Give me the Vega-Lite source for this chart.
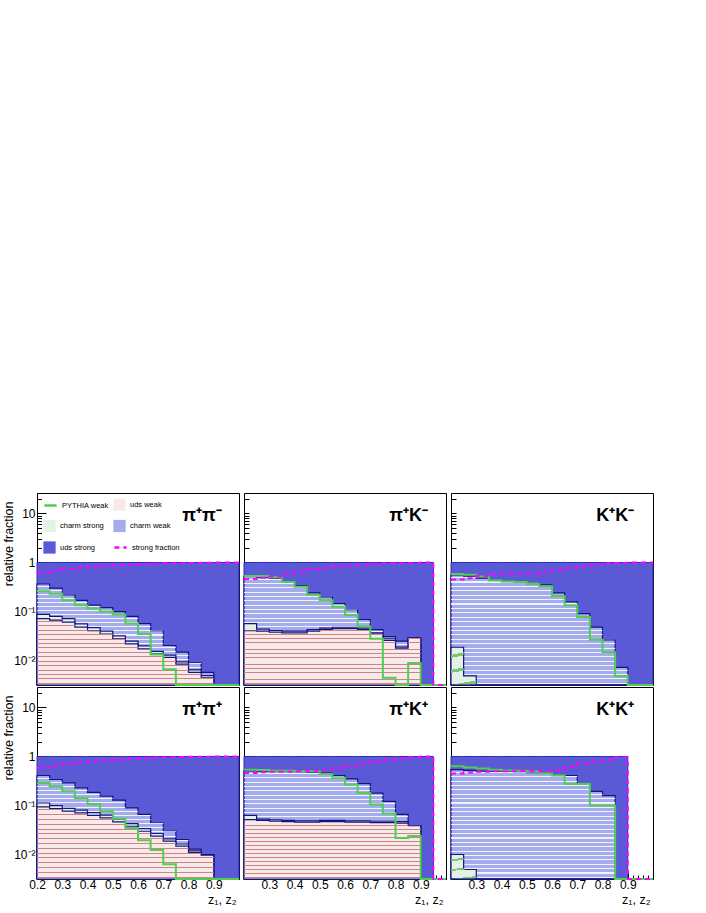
{
  "$schema": "https://vega.github.io/schema/vega-lite/v6.json",
  "background": "white",
  "padding": {"left": 1, "top": 492, "right": 0, "bottom": 0},
  "data": {"values": [
    {"r":"unlike","c":"pp","p":"π⁺π⁻","x":0.2,"uw":0.072,"cs":0.088,"cw":0.365,"us":1,"py":0.26,"sf":0.62},
    {"r":"unlike","c":"pp","p":"π⁺π⁻","x":0.25,"uw":0.067,"cs":0.08,"cw":0.3,"us":1,"py":0.23,"sf":0.69},
    {"r":"unlike","c":"pp","p":"π⁺π⁻","x":0.3,"uw":0.061,"cs":0.072,"cw":0.22,"us":1,"py":0.17,"sf":0.74},
    {"r":"unlike","c":"pp","p":"π⁺π⁻","x":0.35,"uw":0.0485,"cs":0.056,"cw":0.17,"us":1,"py":0.135,"sf":0.79},
    {"r":"unlike","c":"pp","p":"π⁺π⁻","x":0.4,"uw":0.041,"cs":0.047,"cw":0.135,"us":1,"py":0.115,"sf":0.83},
    {"r":"unlike","c":"pp","p":"π⁺π⁻","x":0.45,"uw":0.035,"cs":0.04,"cw":0.12,"us":1,"py":0.1,"sf":0.86},
    {"r":"unlike","c":"pp","p":"π⁺π⁻","x":0.5,"uw":0.028,"cs":0.032,"cw":0.1,"us":1,"py":0.087,"sf":0.88},
    {"r":"unlike","c":"pp","p":"π⁺π⁻","x":0.55,"uw":0.022,"cs":0.025,"cw":0.08,"us":1,"py":0.057,"sf":0.9},
    {"r":"unlike","c":"pp","p":"π⁺π⁻","x":0.6,"uw":0.0174,"cs":0.02,"cw":0.057,"us":1,"py":0.035,"sf":0.92},
    {"r":"unlike","c":"pp","p":"π⁺π⁻","x":0.65,"uw":0.0138,"cs":0.0155,"cw":0.041,"us":1,"py":0.0133,"sf":0.94},
    {"r":"unlike","c":"pp","p":"π⁺π⁻","x":0.7,"uw":0.0117,"cs":0.013,"cw":0.0204,"us":1,"py":0.0067,"sf":0.96},
    {"r":"unlike","c":"pp","p":"π⁺π⁻","x":0.75,"uw":0.0085,"cs":0.0095,"cw":0.0149,"us":1,"py":0,"sf":0.97},
    {"r":"unlike","c":"pp","p":"π⁺π⁻","x":0.8,"uw":0.0058,"cs":0.0065,"cw":0.009,"us":1,"py":0,"sf":0.98},
    {"r":"unlike","c":"pp","p":"π⁺π⁻","x":0.85,"uw":0.0046,"cs":0.005,"cw":0.0058,"us":1,"py":0,"sf":0.99},
    {"r":"unlike","c":"pp","p":"π⁺π⁻","x":0.9,"uw":0,"cs":0,"cw":0,"us":1,"py":0,"sf":1},
    {"r":"unlike","c":"pp","p":"π⁺π⁻","x":0.95,"uw":0,"cs":0,"cw":0,"us":1,"py":0,"sf":1},
    {"r":"unlike","c":"pp","p":"π⁺π⁻","x":1.0,"uw":0,"cs":0,"cw":0,"us":1,"py":0,"sf":1},

    {"r":"unlike","c":"pk","p":"π⁺K⁻","x":0.2,"uw":0.041,"cs":0.057,"cw":0.52,"us":1,"py":0.53,"sf":0.46},
    {"r":"unlike","c":"pk","p":"π⁺K⁻","x":0.25,"uw":0.04,"cs":0.044,"cw":0.5,"us":1,"py":0.53,"sf":0.49},
    {"r":"unlike","c":"pk","p":"π⁺K⁻","x":0.3,"uw":0.038,"cs":0.041,"cw":0.48,"us":1,"py":0.5,"sf":0.52},
    {"r":"unlike","c":"pk","p":"π⁺K⁻","x":0.35,"uw":0.037,"cs":0.04,"cw":0.4,"us":1,"py":0.4,"sf":0.59},
    {"r":"unlike","c":"pk","p":"π⁺K⁻","x":0.4,"uw":0.037,"cs":0.04,"cw":0.34,"us":1,"py":0.32,"sf":0.64},
    {"r":"unlike","c":"pk","p":"π⁺K⁻","x":0.45,"uw":0.04,"cs":0.043,"cw":0.24,"us":1,"py":0.22,"sf":0.73},
    {"r":"unlike","c":"pk","p":"π⁺K⁻","x":0.5,"uw":0.043,"cs":0.046,"cw":0.2,"us":1,"py":0.17,"sf":0.78},
    {"r":"unlike","c":"pk","p":"π⁺K⁻","x":0.55,"uw":0.045,"cs":0.048,"cw":0.146,"us":1,"py":0.125,"sf":0.84},
    {"r":"unlike","c":"pk","p":"π⁺K⁻","x":0.6,"uw":0.045,"cs":0.048,"cw":0.11,"us":1,"py":0.085,"sf":0.87},
    {"r":"unlike","c":"pk","p":"π⁺K⁻","x":0.65,"uw":0.043,"cs":0.046,"cw":0.069,"us":1,"py":0.05,"sf":0.91},
    {"r":"unlike","c":"pk","p":"π⁺K⁻","x":0.7,"uw":0.035,"cs":0.037,"cw":0.043,"us":1,"py":0.028,"sf":0.94},
    {"r":"unlike","c":"pk","p":"π⁺K⁻","x":0.75,"uw":0.026,"cs":0.028,"cw":0.031,"us":1,"py":0.0045,"sf":0.96},
    {"r":"unlike","c":"pk","p":"π⁺K⁻","x":0.8,"uw":0.018,"cs":0.019,"cw":0.025,"us":1,"py":0,"sf":0.97},
    {"r":"unlike","c":"pk","p":"π⁺K⁻","x":0.85,"uw":0.029,"cs":0.029,"cw":0.029,"us":1,"py":0.009,"sf":0.97},
    {"r":"unlike","c":"pk","p":"π⁺K⁻","x":0.9,"uw":0,"cs":0,"cw":0,"us":1,"py":0,"sf":1},
    {"r":"unlike","c":"pk","p":"π⁺K⁻","x":0.95,"uw":0,"cs":0,"cw":0,"us":0,"py":0,"sf":0},
    {"r":"unlike","c":"pk","p":"π⁺K⁻","x":1.0,"uw":0,"cs":0,"cw":0,"us":0,"py":0,"sf":0},

    {"r":"unlike","c":"kk","p":"K⁺K⁻","x":0.2,"uw":0,"cs":0.0188,"cw":0.56,"us":1,"py":0.585,"sf":0.45},
    {"r":"unlike","c":"kk","p":"K⁺K⁻","x":0.25,"uw":0,"cs":0.0049,"cw":0.53,"us":1,"py":0.56,"sf":0.48},
    {"r":"unlike","c":"kk","p":"K⁺K⁻","x":0.3,"uw":0,"cs":0,"cw":0.48,"us":1,"py":0.52,"sf":0.53},
    {"r":"unlike","c":"kk","p":"K⁺K⁻","x":0.35,"uw":0,"cs":0,"cw":0.43,"us":1,"py":0.43,"sf":0.57},
    {"r":"unlike","c":"kk","p":"K⁺K⁻","x":0.4,"uw":0,"cs":0,"cw":0.41,"us":1,"py":0.41,"sf":0.59},
    {"r":"unlike","c":"kk","p":"K⁺K⁻","x":0.45,"uw":0,"cs":0,"cw":0.4,"us":1,"py":0.4,"sf":0.6},
    {"r":"unlike","c":"kk","p":"K⁺K⁻","x":0.5,"uw":0,"cs":0,"cw":0.39,"us":1,"py":0.365,"sf":0.6},
    {"r":"unlike","c":"kk","p":"K⁺K⁻","x":0.55,"uw":0,"cs":0,"cw":0.35,"us":1,"py":0.33,"sf":0.65},
    {"r":"unlike","c":"kk","p":"K⁺K⁻","x":0.6,"uw":0,"cs":0,"cw":0.24,"us":1,"py":0.207,"sf":0.71},
    {"r":"unlike","c":"kk","p":"K⁺K⁻","x":0.65,"uw":0,"cs":0,"cw":0.158,"us":1,"py":0.135,"sf":0.78},
    {"r":"unlike","c":"kk","p":"K⁺K⁻","x":0.7,"uw":0,"cs":0,"cw":0.091,"us":1,"py":0.078,"sf":0.84},
    {"r":"unlike","c":"kk","p":"K⁺K⁻","x":0.75,"uw":0,"cs":0,"cw":0.0485,"us":1,"py":0.0266,"sf":0.9},
    {"r":"unlike","c":"kk","p":"K⁺K⁻","x":0.8,"uw":0,"cs":0,"cw":0.0266,"us":1,"py":0.0149,"sf":0.96},
    {"r":"unlike","c":"kk","p":"K⁺K⁻","x":0.85,"uw":0,"cs":0,"cw":0.0073,"us":1,"py":0.0049,"sf":0.98},
    {"r":"unlike","c":"kk","p":"K⁺K⁻","x":0.9,"uw":0,"cs":0,"cw":0,"us":1,"py":0,"sf":1},
    {"r":"unlike","c":"kk","p":"K⁺K⁻","x":0.95,"uw":0,"cs":0,"cw":0,"us":1,"py":0,"sf":1},
    {"r":"unlike","c":"kk","p":"K⁺K⁻","x":1.0,"uw":0,"cs":0,"cw":0,"us":1,"py":0,"sf":1},

    {"r":"like","c":"pp","p":"π⁺π⁺","x":0.2,"uw":0.094,"cs":0.113,"cw":0.41,"us":1,"py":0.29,"sf":0.59},
    {"r":"like","c":"pp","p":"π⁺π⁺","x":0.25,"uw":0.087,"cs":0.1,"cw":0.34,"us":1,"py":0.246,"sf":0.65},
    {"r":"like","c":"pp","p":"π⁺π⁺","x":0.3,"uw":0.077,"cs":0.088,"cw":0.29,"us":1,"py":0.195,"sf":0.7},
    {"r":"like","c":"pp","p":"π⁺π⁺","x":0.35,"uw":0.071,"cs":0.081,"cw":0.23,"us":1,"py":0.143,"sf":0.76},
    {"r":"like","c":"pp","p":"π⁺π⁺","x":0.4,"uw":0.063,"cs":0.072,"cw":0.186,"us":1,"py":0.108,"sf":0.8},
    {"r":"like","c":"pp","p":"π⁺π⁺","x":0.45,"uw":0.056,"cs":0.064,"cw":0.155,"us":1,"py":0.077,"sf":0.84},
    {"r":"like","c":"pp","p":"π⁺π⁺","x":0.5,"uw":0.0466,"cs":0.053,"cw":0.129,"us":1,"py":0.054,"sf":0.87},
    {"r":"like","c":"pp","p":"π⁺π⁺","x":0.55,"uw":0.038,"cs":0.043,"cw":0.0895,"us":1,"py":0.035,"sf":0.9},
    {"r":"like","c":"pp","p":"π⁺π⁺","x":0.6,"uw":0.03,"cs":0.034,"cw":0.066,"us":1,"py":0.0198,"sf":0.93},
    {"r":"like","c":"pp","p":"π⁺π⁺","x":0.65,"uw":0.024,"cs":0.027,"cw":0.044,"us":1,"py":0.0124,"sf":0.95},
    {"r":"like","c":"pp","p":"π⁺π⁺","x":0.7,"uw":0.0189,"cs":0.021,"cw":0.03,"us":1,"py":0.0064,"sf":0.97},
    {"r":"like","c":"pp","p":"π⁺π⁺","x":0.75,"uw":0.0149,"cs":0.0165,"cw":0.0204,"us":1,"py":0,"sf":0.98},
    {"r":"like","c":"pp","p":"π⁺π⁺","x":0.8,"uw":0.011,"cs":0.012,"cw":0.013,"us":1,"py":0,"sf":0.99},
    {"r":"like","c":"pp","p":"π⁺π⁺","x":0.85,"uw":0.0098,"cs":0.0099,"cw":0.0101,"us":1,"py":0,"sf":0.99},
    {"r":"like","c":"pp","p":"π⁺π⁺","x":0.9,"uw":0,"cs":0,"cw":0,"us":1,"py":0,"sf":1},
    {"r":"like","c":"pp","p":"π⁺π⁺","x":0.95,"uw":0,"cs":0,"cw":0,"us":1,"py":0,"sf":1},
    {"r":"like","c":"pp","p":"π⁺π⁺","x":1.0,"uw":0,"cs":0,"cw":0,"us":1,"py":0,"sf":1},

    {"r":"like","c":"pk","p":"π⁺K⁺","x":0.2,"uw":0.052,"cs":0.063,"cw":0.51,"us":1,"py":0.54,"sf":0.46},
    {"r":"like","c":"pk","p":"π⁺K⁺","x":0.25,"uw":0.05,"cs":0.053,"cw":0.5,"us":1,"py":0.53,"sf":0.48},
    {"r":"like","c":"pk","p":"π⁺K⁺","x":0.3,"uw":0.048,"cs":0.051,"cw":0.5,"us":1,"py":0.51,"sf":0.49},
    {"r":"like","c":"pk","p":"π⁺K⁺","x":0.35,"uw":0.047,"cs":0.05,"cw":0.5,"us":1,"py":0.51,"sf":0.49},
    {"r":"like","c":"pk","p":"π⁺K⁺","x":0.4,"uw":0.046,"cs":0.049,"cw":0.49,"us":1,"py":0.5,"sf":0.5},
    {"r":"like","c":"pk","p":"π⁺K⁺","x":0.45,"uw":0.046,"cs":0.049,"cw":0.48,"us":1,"py":0.5,"sf":0.51},
    {"r":"like","c":"pk","p":"π⁺K⁺","x":0.5,"uw":0.047,"cs":0.05,"cw":0.46,"us":1,"py":0.44,"sf":0.53},
    {"r":"like","c":"pk","p":"π⁺K⁺","x":0.55,"uw":0.047,"cs":0.05,"cw":0.41,"us":1,"py":0.36,"sf":0.58},
    {"r":"like","c":"pk","p":"π⁺K⁺","x":0.6,"uw":0.046,"cs":0.049,"cw":0.35,"us":1,"py":0.27,"sf":0.64},
    {"r":"like","c":"pk","p":"π⁺K⁺","x":0.65,"uw":0.046,"cs":0.049,"cw":0.28,"us":1,"py":0.18,"sf":0.71},
    {"r":"like","c":"pk","p":"π⁺K⁺","x":0.7,"uw":0.045,"cs":0.048,"cw":0.18,"us":1,"py":0.105,"sf":0.8},
    {"r":"like","c":"pk","p":"π⁺K⁺","x":0.75,"uw":0.045,"cs":0.048,"cw":0.122,"us":1,"py":0.069,"sf":0.86},
    {"r":"like","c":"pk","p":"π⁺K⁺","x":0.8,"uw":0.044,"cs":0.047,"cw":0.066,"us":1,"py":0.022,"sf":0.92},
    {"r":"like","c":"pk","p":"π⁺K⁺","x":0.85,"uw":0.039,"cs":0.039,"cw":0.039,"us":1,"py":0.024,"sf":0.96},
    {"r":"like","c":"pk","p":"π⁺K⁺","x":0.9,"uw":0,"cs":0,"cw":0,"us":1,"py":0,"sf":1},
    {"r":"like","c":"pk","p":"π⁺K⁺","x":0.95,"uw":0,"cs":0,"cw":0,"us":0,"py":0,"sf":0},
    {"r":"like","c":"pk","p":"π⁺K⁺","x":1.0,"uw":0,"cs":0,"cw":0,"us":0,"py":0,"sf":0},

    {"r":"like","c":"kk","p":"K⁺K⁺","x":0.2,"uw":0,"cs":0.0101,"cw":0.54,"us":1,"py":0.63,"sf":0.45},
    {"r":"like","c":"kk","p":"K⁺K⁺","x":0.25,"uw":0,"cs":0.005,"cw":0.52,"us":1,"py":0.6,"sf":0.47},
    {"r":"like","c":"kk","p":"K⁺K⁺","x":0.3,"uw":0,"cs":0,"cw":0.5,"us":1,"py":0.57,"sf":0.49},
    {"r":"like","c":"kk","p":"K⁺K⁺","x":0.35,"uw":0,"cs":0,"cw":0.5,"us":1,"py":0.54,"sf":0.5},
    {"r":"like","c":"kk","p":"K⁺K⁺","x":0.4,"uw":0,"cs":0,"cw":0.49,"us":1,"py":0.52,"sf":0.5},
    {"r":"like","c":"kk","p":"K⁺K⁺","x":0.45,"uw":0,"cs":0,"cw":0.48,"us":1,"py":0.51,"sf":0.51},
    {"r":"like","c":"kk","p":"K⁺K⁺","x":0.5,"uw":0,"cs":0,"cw":0.47,"us":1,"py":0.5,"sf":0.51},
    {"r":"like","c":"kk","p":"K⁺K⁺","x":0.55,"uw":0,"cs":0,"cw":0.45,"us":1,"py":0.45,"sf":0.5},
    {"r":"like","c":"kk","p":"K⁺K⁺","x":0.6,"uw":0,"cs":0,"cw":0.41,"us":1,"py":0.41,"sf":0.52},
    {"r":"like","c":"kk","p":"K⁺K⁺","x":0.65,"uw":0,"cs":0,"cw":0.41,"us":1,"py":0.275,"sf":0.61},
    {"r":"like","c":"kk","p":"K⁺K⁺","x":0.7,"uw":0,"cs":0,"cw":0.28,"us":1,"py":0.275,"sf":0.71},
    {"r":"like","c":"kk","p":"K⁺K⁺","x":0.75,"uw":0,"cs":0,"cw":0.195,"us":1,"py":0.1,"sf":0.79},
    {"r":"like","c":"kk","p":"K⁺K⁺","x":0.8,"uw":0,"cs":0,"cw":0.16,"us":1,"py":0.1,"sf":0.84},
    {"r":"like","c":"kk","p":"K⁺K⁺","x":0.85,"uw":0,"cs":0,"cw":0,"us":1,"py":0,"sf":0.97},
    {"r":"like","c":"kk","p":"K⁺K⁺","x":0.9,"uw":0,"cs":0,"cw":0,"us":0,"py":0,"sf":0},
    {"r":"like","c":"kk","p":"K⁺K⁺","x":0.95,"uw":0,"cs":0,"cw":0,"us":0,"py":0,"sf":0},
    {"r":"like","c":"kk","p":"K⁺K⁺","x":1.0,"uw":0,"cs":0,"cw":0,"us":0,"py":0,"sf":0}
  ]},
  "spacing": -10,
  "hconcat": [
    {
      "transform": [{"filter": "datum.c === 'pp'"}],
      "facet": {"row": {"field": "r", "type": "nominal", "sort": ["unlike", "like"], "header": null}},
      "spacing": 2,
      "bounds": "flush",
      "spec": {
        "width": 202, "height": 192,
        "encoding": {"x": {"field": "x", "type": "quantitative", "scale": {"domain": [0.2, 1.0], "nice": false, "zero": false},
          "axis": {"values": [0.2,0.22,0.24,0.26,0.28,0.3,0.32,0.34,0.36,0.38,0.4,0.42,0.44,0.46,0.48,0.5,0.52,0.54,0.56,0.58,0.6,0.62,0.64,0.66,0.68,0.7,0.72,0.74,0.76,0.78,0.8,0.82,0.84,0.86,0.88,0.9,0.92,0.94,0.96,0.98,1.0],
            "labelExpr": "(abs(datum.value*10-round(datum.value*10))<0.001 && datum.value<0.95) ? format(datum.value,'.1f') : ''",
            "tickSize": {"condition": {"test": "abs(datum.value*10-round(datum.value*10))<0.001", "value": -8}, "value": -4},
            "labelPadding": 8, "title": "z₁, z₂", "titleX": 199, "titleY": 14, "titleAlign": "right", "titleBaseline": "top", "titleAnchor": "end"}}},
        "layer": [
          {"mark": {"type": "area", "interpolate": "step-after", "stroke": "#2c2cb8", "strokeWidth": 1},
           "encoding": {"y": {"field": "us", "type": "quantitative", "scale": {"type": "log", "domain": [0.0032, 26], "nice": false, "clamp": true},
              "axis": {"values": [0.004,0.005,0.006,0.007,0.008,0.009,0.01,0.02,0.03,0.04,0.05,0.06,0.07,0.08,0.09,0.1,0.2,0.3,0.4,0.5,0.6,0.7,0.8,0.9,1,2,3,4,5,6,7,8,9,10,20],
                "labelExpr": "datum.value===10 ? '10' : datum.value===1 ? '1' : datum.value===0.1 ? '10⁻¹' : datum.value===0.01 ? '10⁻²' : ''",
                "tickSize": {"condition": {"test": "indexof([0.01,0.1,1,10], datum.value) >= 0", "value": -9}, "value": -4.5},
                "labelPadding": 11, "title": "relative fraction", "titleX": -22, "titleY": 8, "titleAlign": "right", "titleBaseline": "bottom", "titleAngle": -90}},
             "y2": {"datum": 0},
             "fill": {"datum": "uds strong",
               "scale": {"domain": ["PYTHIA weak", "uds weak", "charm strong", "charm weak", "uds strong", "strong fraction"], "range": ["transparent", "#f8eaea", "#e4f2e4", "#a4acee", "#5a5ad6", "transparent"]},
               "legend": {"orient": "none", "legendX": 6, "legendY": 5, "columns": 2, "direction": "horizontal", "title": null, "labelFont": "Liberation Sans", "labelFontSize": 7.5, "labelColor": "#000",
                 "labelExpr": "datum.label === 'PYTHIA weak' || datum.label === 'strong fraction' ? '' : datum.label",
                 "symbolSize": 150, "symbolType": "square", "symbolStrokeWidth": 0, "labelOffset": 4, "columnPadding": 9, "rowPadding": 8.5, "padding": 0}}}},
          {"mark": {"type": "area", "interpolate": "step-after", "stroke": "#14147e", "strokeWidth": 1.2},
           "encoding": {"y": {"field": "cw", "type": "quantitative"}, "y2": {"datum": 0}, "fill": {"datum": "charm weak"}}},
          {"mark": {"type": "area", "interpolate": "step-after", "strokeWidth": 0,
             "fill": {"gradient": "linear", "x1": 0, "y1": 0, "x2": 0, "y2": 1, "stops": [
              {"offset": 0, "color": "rgba(255,255,255,0)"},
              {"offset": 0.02, "color": "rgba(255,255,255,0)"}, {"offset": 0.02, "color": "rgba(255,255,255,0.85)"}, {"offset": 0.03, "color": "rgba(255,255,255,0.85)"}, {"offset": 0.03, "color": "rgba(255,255,255,0)"},
              {"offset": 0.06, "color": "rgba(255,255,255,0)"}, {"offset": 0.06, "color": "rgba(255,255,255,0.85)"}, {"offset": 0.07, "color": "rgba(255,255,255,0.85)"}, {"offset": 0.07, "color": "rgba(255,255,255,0)"},
              {"offset": 0.1, "color": "rgba(255,255,255,0)"}, {"offset": 0.1, "color": "rgba(255,255,255,0.85)"}, {"offset": 0.11, "color": "rgba(255,255,255,0.85)"}, {"offset": 0.11, "color": "rgba(255,255,255,0)"},
              {"offset": 0.14, "color": "rgba(255,255,255,0)"}, {"offset": 0.14, "color": "rgba(255,255,255,0.85)"}, {"offset": 0.15, "color": "rgba(255,255,255,0.85)"}, {"offset": 0.15, "color": "rgba(255,255,255,0)"},
              {"offset": 0.18, "color": "rgba(255,255,255,0)"}, {"offset": 0.18, "color": "rgba(255,255,255,0.85)"}, {"offset": 0.19, "color": "rgba(255,255,255,0.85)"}, {"offset": 0.19, "color": "rgba(255,255,255,0)"},
              {"offset": 0.22, "color": "rgba(255,255,255,0)"}, {"offset": 0.22, "color": "rgba(255,255,255,0.85)"}, {"offset": 0.23, "color": "rgba(255,255,255,0.85)"}, {"offset": 0.23, "color": "rgba(255,255,255,0)"},
              {"offset": 0.26, "color": "rgba(255,255,255,0)"}, {"offset": 0.26, "color": "rgba(255,255,255,0.85)"}, {"offset": 0.27, "color": "rgba(255,255,255,0.85)"}, {"offset": 0.27, "color": "rgba(255,255,255,0)"},
              {"offset": 0.3, "color": "rgba(255,255,255,0)"}, {"offset": 0.3, "color": "rgba(255,255,255,0.85)"}, {"offset": 0.31, "color": "rgba(255,255,255,0.85)"}, {"offset": 0.31, "color": "rgba(255,255,255,0)"},
              {"offset": 0.34, "color": "rgba(255,255,255,0)"}, {"offset": 0.34, "color": "rgba(255,255,255,0.85)"}, {"offset": 0.35, "color": "rgba(255,255,255,0.85)"}, {"offset": 0.35, "color": "rgba(255,255,255,0)"},
              {"offset": 0.38, "color": "rgba(255,255,255,0)"}, {"offset": 0.38, "color": "rgba(255,255,255,0.85)"}, {"offset": 0.39, "color": "rgba(255,255,255,0.85)"}, {"offset": 0.39, "color": "rgba(255,255,255,0)"},
              {"offset": 0.42, "color": "rgba(255,255,255,0)"}, {"offset": 0.42, "color": "rgba(255,255,255,0.85)"}, {"offset": 0.43, "color": "rgba(255,255,255,0.85)"}, {"offset": 0.43, "color": "rgba(255,255,255,0)"},
              {"offset": 0.46, "color": "rgba(255,255,255,0)"}, {"offset": 0.46, "color": "rgba(255,255,255,0.85)"}, {"offset": 0.47, "color": "rgba(255,255,255,0.85)"}, {"offset": 0.47, "color": "rgba(255,255,255,0)"},
              {"offset": 0.5, "color": "rgba(255,255,255,0)"}, {"offset": 0.5, "color": "rgba(255,255,255,0.85)"}, {"offset": 0.51, "color": "rgba(255,255,255,0.85)"}, {"offset": 0.51, "color": "rgba(255,255,255,0)"},
              {"offset": 0.54, "color": "rgba(255,255,255,0)"}, {"offset": 0.54, "color": "rgba(255,255,255,0.85)"}, {"offset": 0.55, "color": "rgba(255,255,255,0.85)"}, {"offset": 0.55, "color": "rgba(255,255,255,0)"},
              {"offset": 0.58, "color": "rgba(255,255,255,0)"}, {"offset": 0.58, "color": "rgba(255,255,255,0.85)"}, {"offset": 0.59, "color": "rgba(255,255,255,0.85)"}, {"offset": 0.59, "color": "rgba(255,255,255,0)"},
              {"offset": 0.62, "color": "rgba(255,255,255,0)"}, {"offset": 0.62, "color": "rgba(255,255,255,0.85)"}, {"offset": 0.63, "color": "rgba(255,255,255,0.85)"}, {"offset": 0.63, "color": "rgba(255,255,255,0)"},
              {"offset": 0.66, "color": "rgba(255,255,255,0)"}, {"offset": 0.66, "color": "rgba(255,255,255,0.85)"}, {"offset": 0.67, "color": "rgba(255,255,255,0.85)"}, {"offset": 0.67, "color": "rgba(255,255,255,0)"},
              {"offset": 0.7, "color": "rgba(255,255,255,0)"}, {"offset": 0.7, "color": "rgba(255,255,255,0.85)"}, {"offset": 0.71, "color": "rgba(255,255,255,0.85)"}, {"offset": 0.71, "color": "rgba(255,255,255,0)"},
              {"offset": 0.74, "color": "rgba(255,255,255,0)"}, {"offset": 0.74, "color": "rgba(255,255,255,0.85)"}, {"offset": 0.75, "color": "rgba(255,255,255,0.85)"}, {"offset": 0.75, "color": "rgba(255,255,255,0)"},
              {"offset": 0.78, "color": "rgba(255,255,255,0)"}, {"offset": 0.78, "color": "rgba(255,255,255,0.85)"}, {"offset": 0.79, "color": "rgba(255,255,255,0.85)"}, {"offset": 0.79, "color": "rgba(255,255,255,0)"},
              {"offset": 0.82, "color": "rgba(255,255,255,0)"}, {"offset": 0.82, "color": "rgba(255,255,255,0.85)"}, {"offset": 0.83, "color": "rgba(255,255,255,0.85)"}, {"offset": 0.83, "color": "rgba(255,255,255,0)"},
              {"offset": 0.86, "color": "rgba(255,255,255,0)"}, {"offset": 0.86, "color": "rgba(255,255,255,0.85)"}, {"offset": 0.87, "color": "rgba(255,255,255,0.85)"}, {"offset": 0.87, "color": "rgba(255,255,255,0)"},
              {"offset": 0.9, "color": "rgba(255,255,255,0)"}, {"offset": 0.9, "color": "rgba(255,255,255,0.85)"}, {"offset": 0.91, "color": "rgba(255,255,255,0.85)"}, {"offset": 0.91, "color": "rgba(255,255,255,0)"},
              {"offset": 0.94, "color": "rgba(255,255,255,0)"}, {"offset": 0.94, "color": "rgba(255,255,255,0.85)"}, {"offset": 0.95, "color": "rgba(255,255,255,0.85)"}, {"offset": 0.95, "color": "rgba(255,255,255,0)"},
              {"offset": 0.98, "color": "rgba(255,255,255,0)"}, {"offset": 0.98, "color": "rgba(255,255,255,0.85)"}, {"offset": 0.99, "color": "rgba(255,255,255,0.85)"}, {"offset": 0.99, "color": "rgba(255,255,255,0)"},
              {"offset": 1, "color": "rgba(255,255,255,0)"}]}},
           "encoding": {"y": {"field": "cw", "type": "quantitative"}, "y2": {"datum": 0}}},
          {"mark": {"type": "area", "interpolate": "step-after", "stroke": "#14147e", "strokeWidth": 1.2},
           "encoding": {"y": {"field": "cs", "type": "quantitative"}, "y2": {"datum": 0}, "fill": {"datum": "charm strong"}}},
          {"mark": {"type": "area", "interpolate": "step-after", "stroke": "#14147e", "strokeWidth": 1.2},
           "encoding": {"y": {"field": "uw", "type": "quantitative"}, "y2": {"datum": 0}, "fill": {"datum": "uds weak"}}},
          {"mark": {"type": "area", "interpolate": "step-after", "strokeWidth": 0,
             "fill": {"gradient": "linear", "x1": 0, "y1": 0, "x2": 0, "y2": 1, "stops": [
              {"offset": 0, "color": "rgba(255,255,255,0)"},
              {"offset": 0.0333, "color": "rgba(255,255,255,0)"}, {"offset": 0.0333, "color": "#cc8484"}, {"offset": 0.0483, "color": "#cc8484"}, {"offset": 0.0483, "color": "rgba(255,255,255,0)"},
              {"offset": 0.1, "color": "rgba(255,255,255,0)"}, {"offset": 0.1, "color": "#cc8484"}, {"offset": 0.115, "color": "#cc8484"}, {"offset": 0.115, "color": "rgba(255,255,255,0)"},
              {"offset": 0.1667, "color": "rgba(255,255,255,0)"}, {"offset": 0.1667, "color": "#cc8484"}, {"offset": 0.1817, "color": "#cc8484"}, {"offset": 0.1817, "color": "rgba(255,255,255,0)"},
              {"offset": 0.2333, "color": "rgba(255,255,255,0)"}, {"offset": 0.2333, "color": "#cc8484"}, {"offset": 0.2483, "color": "#cc8484"}, {"offset": 0.2483, "color": "rgba(255,255,255,0)"},
              {"offset": 0.3, "color": "rgba(255,255,255,0)"}, {"offset": 0.3, "color": "#cc8484"}, {"offset": 0.315, "color": "#cc8484"}, {"offset": 0.315, "color": "rgba(255,255,255,0)"},
              {"offset": 0.3667, "color": "rgba(255,255,255,0)"}, {"offset": 0.3667, "color": "#cc8484"}, {"offset": 0.3817, "color": "#cc8484"}, {"offset": 0.3817, "color": "rgba(255,255,255,0)"},
              {"offset": 0.4333, "color": "rgba(255,255,255,0)"}, {"offset": 0.4333, "color": "#cc8484"}, {"offset": 0.4483, "color": "#cc8484"}, {"offset": 0.4483, "color": "rgba(255,255,255,0)"},
              {"offset": 0.5, "color": "rgba(255,255,255,0)"}, {"offset": 0.5, "color": "#cc8484"}, {"offset": 0.515, "color": "#cc8484"}, {"offset": 0.515, "color": "rgba(255,255,255,0)"},
              {"offset": 0.5667, "color": "rgba(255,255,255,0)"}, {"offset": 0.5667, "color": "#cc8484"}, {"offset": 0.5817, "color": "#cc8484"}, {"offset": 0.5817, "color": "rgba(255,255,255,0)"},
              {"offset": 0.6333, "color": "rgba(255,255,255,0)"}, {"offset": 0.6333, "color": "#cc8484"}, {"offset": 0.6483, "color": "#cc8484"}, {"offset": 0.6483, "color": "rgba(255,255,255,0)"},
              {"offset": 0.7, "color": "rgba(255,255,255,0)"}, {"offset": 0.7, "color": "#cc8484"}, {"offset": 0.715, "color": "#cc8484"}, {"offset": 0.715, "color": "rgba(255,255,255,0)"},
              {"offset": 0.7667, "color": "rgba(255,255,255,0)"}, {"offset": 0.7667, "color": "#cc8484"}, {"offset": 0.7817, "color": "#cc8484"}, {"offset": 0.7817, "color": "rgba(255,255,255,0)"},
              {"offset": 0.8333, "color": "rgba(255,255,255,0)"}, {"offset": 0.8333, "color": "#cc8484"}, {"offset": 0.8483, "color": "#cc8484"}, {"offset": 0.8483, "color": "rgba(255,255,255,0)"},
              {"offset": 0.9, "color": "rgba(255,255,255,0)"}, {"offset": 0.9, "color": "#cc8484"}, {"offset": 0.915, "color": "#cc8484"}, {"offset": 0.915, "color": "rgba(255,255,255,0)"},
              {"offset": 0.9667, "color": "rgba(255,255,255,0)"}, {"offset": 0.9667, "color": "#cc8484"}, {"offset": 0.9817, "color": "#cc8484"}, {"offset": 0.9817, "color": "rgba(255,255,255,0)"},
              {"offset": 1, "color": "rgba(255,255,255,0)"}]}},
           "encoding": {"y": {"field": "uw", "type": "quantitative"}, "y2": {"datum": 0}}},
          {"mark": {"type": "line", "interpolate": "step-after", "strokeWidth": 2},
           "encoding": {"y": {"field": "py", "type": "quantitative"},
             "stroke": {"datum": "PYTHIA weak", "scale": {"domain": ["PYTHIA weak"], "range": ["#4fcf4f"]},
               "legend": {"orient": "none", "legendX": 6, "legendY": 5, "title": null, "labelFont": "Liberation Sans", "labelFontSize": 7.5, "labelColor": "#000", "symbolSize": 150, "symbolType": "stroke", "symbolStrokeWidth": 2.5, "labelOffset": 4, "padding": 0}}}},
          {"mark": {"type": "line", "interpolate": "step-after", "strokeWidth": 2, "color": "#ff00ff"},
           "encoding": {"y": {"field": "sf", "type": "quantitative"},
             "strokeDash": {"datum": "strong fraction", "scale": {"domain": ["strong fraction"], "range": [[5, 4]]},
               "legend": {"orient": "none", "legendX": 76, "legendY": 47, "title": null, "labelFont": "Liberation Sans", "labelFontSize": 7.5, "labelColor": "#000", "symbolSize": 150, "symbolType": "stroke", "symbolStrokeColor": "#ff00ff", "symbolStrokeWidth": 2.5, "labelOffset": 4, "padding": 0}}}},
          {"transform": [{"filter": "datum.x === 0.2"}],
           "mark": {"type": "text", "align": "left", "baseline": "middle", "fontSize": 18, "fontWeight": "bold", "font": "Liberation Sans", "color": "#000"},
           "encoding": {"x": {"datum": 0.775}, "y": {"datum": 9}, "text": {"field": "p"}}}
        ]
      }
    },
    {
      "transform": [{"filter": "datum.c === 'pk'"}],
      "facet": {"row": {"field": "r", "type": "nominal", "sort": ["unlike", "like"], "header": null}},
      "spacing": 2,
      "bounds": "flush",
      "spec": {
        "width": 202, "height": 192,
        "encoding": {"x": {"field": "x", "type": "quantitative", "scale": {"domain": [0.2, 1.0], "nice": false, "zero": false},
          "axis": {"values": [0.2,0.22,0.24,0.26,0.28,0.3,0.32,0.34,0.36,0.38,0.4,0.42,0.44,0.46,0.48,0.5,0.52,0.54,0.56,0.58,0.6,0.62,0.64,0.66,0.68,0.7,0.72,0.74,0.76,0.78,0.8,0.82,0.84,0.86,0.88,0.9,0.92,0.94,0.96,0.98,1.0],
            "labelExpr": "(abs(datum.value*10-round(datum.value*10))<0.001 && datum.value>0.25 && datum.value<0.95) ? format(datum.value,'.1f') : ''",
            "tickSize": {"condition": {"test": "abs(datum.value*10-round(datum.value*10))<0.001", "value": -8}, "value": -4},
            "labelPadding": 8, "title": "z₁, z₂", "titleX": 199, "titleY": 14, "titleAlign": "right", "titleBaseline": "top", "titleAnchor": "end"}}},
        "layer": [
          {"mark": {"type": "area", "interpolate": "step-after", "stroke": "#2c2cb8", "strokeWidth": 1},
           "encoding": {"y": {"field": "us", "type": "quantitative", "scale": {"type": "log", "domain": [0.0032, 26], "nice": false, "clamp": true},
              "axis": {"values": [0.004,0.005,0.006,0.007,0.008,0.009,0.01,0.02,0.03,0.04,0.05,0.06,0.07,0.08,0.09,0.1,0.2,0.3,0.4,0.5,0.6,0.7,0.8,0.9,1,2,3,4,5,6,7,8,9,10,20],
                "labels": false, "title": null, "domain": false, "offset": -5, "tickSize": 5}},
             "y2": {"datum": 0}, "fill": {"datum": "uds strong"}}},
          {"mark": {"type": "area", "interpolate": "step-after", "stroke": "#14147e", "strokeWidth": 1.2},
           "encoding": {"y": {"field": "cw", "type": "quantitative"}, "y2": {"datum": 0}, "fill": {"datum": "charm weak"}}},
          {"mark": {"type": "area", "interpolate": "step-after", "strokeWidth": 0,
             "fill": {"gradient": "linear", "x1": 0, "y1": 0, "x2": 0, "y2": 1, "stops": [
              {"offset": 0, "color": "rgba(255,255,255,0)"},
              {"offset": 0.02, "color": "rgba(255,255,255,0)"}, {"offset": 0.02, "color": "rgba(255,255,255,0.85)"}, {"offset": 0.03, "color": "rgba(255,255,255,0.85)"}, {"offset": 0.03, "color": "rgba(255,255,255,0)"},
              {"offset": 0.06, "color": "rgba(255,255,255,0)"}, {"offset": 0.06, "color": "rgba(255,255,255,0.85)"}, {"offset": 0.07, "color": "rgba(255,255,255,0.85)"}, {"offset": 0.07, "color": "rgba(255,255,255,0)"},
              {"offset": 0.1, "color": "rgba(255,255,255,0)"}, {"offset": 0.1, "color": "rgba(255,255,255,0.85)"}, {"offset": 0.11, "color": "rgba(255,255,255,0.85)"}, {"offset": 0.11, "color": "rgba(255,255,255,0)"},
              {"offset": 0.14, "color": "rgba(255,255,255,0)"}, {"offset": 0.14, "color": "rgba(255,255,255,0.85)"}, {"offset": 0.15, "color": "rgba(255,255,255,0.85)"}, {"offset": 0.15, "color": "rgba(255,255,255,0)"},
              {"offset": 0.18, "color": "rgba(255,255,255,0)"}, {"offset": 0.18, "color": "rgba(255,255,255,0.85)"}, {"offset": 0.19, "color": "rgba(255,255,255,0.85)"}, {"offset": 0.19, "color": "rgba(255,255,255,0)"},
              {"offset": 0.22, "color": "rgba(255,255,255,0)"}, {"offset": 0.22, "color": "rgba(255,255,255,0.85)"}, {"offset": 0.23, "color": "rgba(255,255,255,0.85)"}, {"offset": 0.23, "color": "rgba(255,255,255,0)"},
              {"offset": 0.26, "color": "rgba(255,255,255,0)"}, {"offset": 0.26, "color": "rgba(255,255,255,0.85)"}, {"offset": 0.27, "color": "rgba(255,255,255,0.85)"}, {"offset": 0.27, "color": "rgba(255,255,255,0)"},
              {"offset": 0.3, "color": "rgba(255,255,255,0)"}, {"offset": 0.3, "color": "rgba(255,255,255,0.85)"}, {"offset": 0.31, "color": "rgba(255,255,255,0.85)"}, {"offset": 0.31, "color": "rgba(255,255,255,0)"},
              {"offset": 0.34, "color": "rgba(255,255,255,0)"}, {"offset": 0.34, "color": "rgba(255,255,255,0.85)"}, {"offset": 0.35, "color": "rgba(255,255,255,0.85)"}, {"offset": 0.35, "color": "rgba(255,255,255,0)"},
              {"offset": 0.38, "color": "rgba(255,255,255,0)"}, {"offset": 0.38, "color": "rgba(255,255,255,0.85)"}, {"offset": 0.39, "color": "rgba(255,255,255,0.85)"}, {"offset": 0.39, "color": "rgba(255,255,255,0)"},
              {"offset": 0.42, "color": "rgba(255,255,255,0)"}, {"offset": 0.42, "color": "rgba(255,255,255,0.85)"}, {"offset": 0.43, "color": "rgba(255,255,255,0.85)"}, {"offset": 0.43, "color": "rgba(255,255,255,0)"},
              {"offset": 0.46, "color": "rgba(255,255,255,0)"}, {"offset": 0.46, "color": "rgba(255,255,255,0.85)"}, {"offset": 0.47, "color": "rgba(255,255,255,0.85)"}, {"offset": 0.47, "color": "rgba(255,255,255,0)"},
              {"offset": 0.5, "color": "rgba(255,255,255,0)"}, {"offset": 0.5, "color": "rgba(255,255,255,0.85)"}, {"offset": 0.51, "color": "rgba(255,255,255,0.85)"}, {"offset": 0.51, "color": "rgba(255,255,255,0)"},
              {"offset": 0.54, "color": "rgba(255,255,255,0)"}, {"offset": 0.54, "color": "rgba(255,255,255,0.85)"}, {"offset": 0.55, "color": "rgba(255,255,255,0.85)"}, {"offset": 0.55, "color": "rgba(255,255,255,0)"},
              {"offset": 0.58, "color": "rgba(255,255,255,0)"}, {"offset": 0.58, "color": "rgba(255,255,255,0.85)"}, {"offset": 0.59, "color": "rgba(255,255,255,0.85)"}, {"offset": 0.59, "color": "rgba(255,255,255,0)"},
              {"offset": 0.62, "color": "rgba(255,255,255,0)"}, {"offset": 0.62, "color": "rgba(255,255,255,0.85)"}, {"offset": 0.63, "color": "rgba(255,255,255,0.85)"}, {"offset": 0.63, "color": "rgba(255,255,255,0)"},
              {"offset": 0.66, "color": "rgba(255,255,255,0)"}, {"offset": 0.66, "color": "rgba(255,255,255,0.85)"}, {"offset": 0.67, "color": "rgba(255,255,255,0.85)"}, {"offset": 0.67, "color": "rgba(255,255,255,0)"},
              {"offset": 0.7, "color": "rgba(255,255,255,0)"}, {"offset": 0.7, "color": "rgba(255,255,255,0.85)"}, {"offset": 0.71, "color": "rgba(255,255,255,0.85)"}, {"offset": 0.71, "color": "rgba(255,255,255,0)"},
              {"offset": 0.74, "color": "rgba(255,255,255,0)"}, {"offset": 0.74, "color": "rgba(255,255,255,0.85)"}, {"offset": 0.75, "color": "rgba(255,255,255,0.85)"}, {"offset": 0.75, "color": "rgba(255,255,255,0)"},
              {"offset": 0.78, "color": "rgba(255,255,255,0)"}, {"offset": 0.78, "color": "rgba(255,255,255,0.85)"}, {"offset": 0.79, "color": "rgba(255,255,255,0.85)"}, {"offset": 0.79, "color": "rgba(255,255,255,0)"},
              {"offset": 0.82, "color": "rgba(255,255,255,0)"}, {"offset": 0.82, "color": "rgba(255,255,255,0.85)"}, {"offset": 0.83, "color": "rgba(255,255,255,0.85)"}, {"offset": 0.83, "color": "rgba(255,255,255,0)"},
              {"offset": 0.86, "color": "rgba(255,255,255,0)"}, {"offset": 0.86, "color": "rgba(255,255,255,0.85)"}, {"offset": 0.87, "color": "rgba(255,255,255,0.85)"}, {"offset": 0.87, "color": "rgba(255,255,255,0)"},
              {"offset": 0.9, "color": "rgba(255,255,255,0)"}, {"offset": 0.9, "color": "rgba(255,255,255,0.85)"}, {"offset": 0.91, "color": "rgba(255,255,255,0.85)"}, {"offset": 0.91, "color": "rgba(255,255,255,0)"},
              {"offset": 0.94, "color": "rgba(255,255,255,0)"}, {"offset": 0.94, "color": "rgba(255,255,255,0.85)"}, {"offset": 0.95, "color": "rgba(255,255,255,0.85)"}, {"offset": 0.95, "color": "rgba(255,255,255,0)"},
              {"offset": 0.98, "color": "rgba(255,255,255,0)"}, {"offset": 0.98, "color": "rgba(255,255,255,0.85)"}, {"offset": 0.99, "color": "rgba(255,255,255,0.85)"}, {"offset": 0.99, "color": "rgba(255,255,255,0)"},
              {"offset": 1, "color": "rgba(255,255,255,0)"}]}},
           "encoding": {"y": {"field": "cw", "type": "quantitative"}, "y2": {"datum": 0}}},
          {"mark": {"type": "area", "interpolate": "step-after", "stroke": "#14147e", "strokeWidth": 1.2},
           "encoding": {"y": {"field": "cs", "type": "quantitative"}, "y2": {"datum": 0}, "fill": {"datum": "charm strong"}}},
          {"mark": {"type": "area", "interpolate": "step-after", "stroke": "#14147e", "strokeWidth": 1.2},
           "encoding": {"y": {"field": "uw", "type": "quantitative"}, "y2": {"datum": 0}, "fill": {"datum": "uds weak"}}},
          {"mark": {"type": "area", "interpolate": "step-after", "strokeWidth": 0,
             "fill": {"gradient": "linear", "x1": 0, "y1": 0, "x2": 0, "y2": 1, "stops": [
              {"offset": 0, "color": "rgba(255,255,255,0)"},
              {"offset": 0.0333, "color": "rgba(255,255,255,0)"}, {"offset": 0.0333, "color": "#cc8484"}, {"offset": 0.0483, "color": "#cc8484"}, {"offset": 0.0483, "color": "rgba(255,255,255,0)"},
              {"offset": 0.1, "color": "rgba(255,255,255,0)"}, {"offset": 0.1, "color": "#cc8484"}, {"offset": 0.115, "color": "#cc8484"}, {"offset": 0.115, "color": "rgba(255,255,255,0)"},
              {"offset": 0.1667, "color": "rgba(255,255,255,0)"}, {"offset": 0.1667, "color": "#cc8484"}, {"offset": 0.1817, "color": "#cc8484"}, {"offset": 0.1817, "color": "rgba(255,255,255,0)"},
              {"offset": 0.2333, "color": "rgba(255,255,255,0)"}, {"offset": 0.2333, "color": "#cc8484"}, {"offset": 0.2483, "color": "#cc8484"}, {"offset": 0.2483, "color": "rgba(255,255,255,0)"},
              {"offset": 0.3, "color": "rgba(255,255,255,0)"}, {"offset": 0.3, "color": "#cc8484"}, {"offset": 0.315, "color": "#cc8484"}, {"offset": 0.315, "color": "rgba(255,255,255,0)"},
              {"offset": 0.3667, "color": "rgba(255,255,255,0)"}, {"offset": 0.3667, "color": "#cc8484"}, {"offset": 0.3817, "color": "#cc8484"}, {"offset": 0.3817, "color": "rgba(255,255,255,0)"},
              {"offset": 0.4333, "color": "rgba(255,255,255,0)"}, {"offset": 0.4333, "color": "#cc8484"}, {"offset": 0.4483, "color": "#cc8484"}, {"offset": 0.4483, "color": "rgba(255,255,255,0)"},
              {"offset": 0.5, "color": "rgba(255,255,255,0)"}, {"offset": 0.5, "color": "#cc8484"}, {"offset": 0.515, "color": "#cc8484"}, {"offset": 0.515, "color": "rgba(255,255,255,0)"},
              {"offset": 0.5667, "color": "rgba(255,255,255,0)"}, {"offset": 0.5667, "color": "#cc8484"}, {"offset": 0.5817, "color": "#cc8484"}, {"offset": 0.5817, "color": "rgba(255,255,255,0)"},
              {"offset": 0.6333, "color": "rgba(255,255,255,0)"}, {"offset": 0.6333, "color": "#cc8484"}, {"offset": 0.6483, "color": "#cc8484"}, {"offset": 0.6483, "color": "rgba(255,255,255,0)"},
              {"offset": 0.7, "color": "rgba(255,255,255,0)"}, {"offset": 0.7, "color": "#cc8484"}, {"offset": 0.715, "color": "#cc8484"}, {"offset": 0.715, "color": "rgba(255,255,255,0)"},
              {"offset": 0.7667, "color": "rgba(255,255,255,0)"}, {"offset": 0.7667, "color": "#cc8484"}, {"offset": 0.7817, "color": "#cc8484"}, {"offset": 0.7817, "color": "rgba(255,255,255,0)"},
              {"offset": 0.8333, "color": "rgba(255,255,255,0)"}, {"offset": 0.8333, "color": "#cc8484"}, {"offset": 0.8483, "color": "#cc8484"}, {"offset": 0.8483, "color": "rgba(255,255,255,0)"},
              {"offset": 0.9, "color": "rgba(255,255,255,0)"}, {"offset": 0.9, "color": "#cc8484"}, {"offset": 0.915, "color": "#cc8484"}, {"offset": 0.915, "color": "rgba(255,255,255,0)"},
              {"offset": 0.9667, "color": "rgba(255,255,255,0)"}, {"offset": 0.9667, "color": "#cc8484"}, {"offset": 0.9817, "color": "#cc8484"}, {"offset": 0.9817, "color": "rgba(255,255,255,0)"},
              {"offset": 1, "color": "rgba(255,255,255,0)"}]}},
           "encoding": {"y": {"field": "uw", "type": "quantitative"}, "y2": {"datum": 0}}},
          {"mark": {"type": "line", "interpolate": "step-after", "strokeWidth": 2},
           "encoding": {"y": {"field": "py", "type": "quantitative"}, "stroke": {"datum": "PYTHIA weak"}}},
          {"mark": {"type": "line", "interpolate": "step-after", "strokeWidth": 2, "color": "#ff00ff"},
           "encoding": {"y": {"field": "sf", "type": "quantitative"}, "strokeDash": {"datum": "strong fraction"}}},
          {"transform": [{"filter": "datum.x === 0.2"}],
           "mark": {"type": "text", "align": "left", "baseline": "middle", "fontSize": 18, "fontWeight": "bold", "font": "Liberation Sans", "color": "#000"},
           "encoding": {"x": {"datum": 0.775}, "y": {"datum": 9}, "text": {"field": "p"}}}
        ]
      }
    },
    {
      "transform": [{"filter": "datum.c === 'kk'"}],
      "facet": {"row": {"field": "r", "type": "nominal", "sort": ["unlike", "like"], "header": null}},
      "spacing": 2,
      "bounds": "flush",
      "spec": {
        "width": 202, "height": 192,
        "encoding": {"x": {"field": "x", "type": "quantitative", "scale": {"domain": [0.2, 1.0], "nice": false, "zero": false},
          "axis": {"values": [0.2,0.22,0.24,0.26,0.28,0.3,0.32,0.34,0.36,0.38,0.4,0.42,0.44,0.46,0.48,0.5,0.52,0.54,0.56,0.58,0.6,0.62,0.64,0.66,0.68,0.7,0.72,0.74,0.76,0.78,0.8,0.82,0.84,0.86,0.88,0.9,0.92,0.94,0.96,0.98,1.0],
            "labelExpr": "(abs(datum.value*10-round(datum.value*10))<0.001 && datum.value>0.25 && datum.value<0.95) ? format(datum.value,'.1f') : ''",
            "tickSize": {"condition": {"test": "abs(datum.value*10-round(datum.value*10))<0.001", "value": -8}, "value": -4},
            "labelPadding": 8, "title": "z₁, z₂", "titleX": 199, "titleY": 14, "titleAlign": "right", "titleBaseline": "top", "titleAnchor": "end"}}},
        "layer": [
          {"mark": {"type": "area", "interpolate": "step-after", "stroke": "#2c2cb8", "strokeWidth": 1},
           "encoding": {"y": {"field": "us", "type": "quantitative", "scale": {"type": "log", "domain": [0.0032, 26], "nice": false, "clamp": true},
              "axis": {"values": [0.004,0.005,0.006,0.007,0.008,0.009,0.01,0.02,0.03,0.04,0.05,0.06,0.07,0.08,0.09,0.1,0.2,0.3,0.4,0.5,0.6,0.7,0.8,0.9,1,2,3,4,5,6,7,8,9,10,20],
                "labels": false, "title": null, "domain": false, "offset": -5, "tickSize": 5}},
             "y2": {"datum": 0}, "fill": {"datum": "uds strong"}}},
          {"mark": {"type": "area", "interpolate": "step-after", "stroke": "#14147e", "strokeWidth": 1.2},
           "encoding": {"y": {"field": "cw", "type": "quantitative"}, "y2": {"datum": 0}, "fill": {"datum": "charm weak"}}},
          {"mark": {"type": "area", "interpolate": "step-after", "strokeWidth": 0,
             "fill": {"gradient": "linear", "x1": 0, "y1": 0, "x2": 0, "y2": 1, "stops": [
              {"offset": 0, "color": "rgba(255,255,255,0)"},
              {"offset": 0.02, "color": "rgba(255,255,255,0)"}, {"offset": 0.02, "color": "rgba(255,255,255,0.85)"}, {"offset": 0.03, "color": "rgba(255,255,255,0.85)"}, {"offset": 0.03, "color": "rgba(255,255,255,0)"},
              {"offset": 0.06, "color": "rgba(255,255,255,0)"}, {"offset": 0.06, "color": "rgba(255,255,255,0.85)"}, {"offset": 0.07, "color": "rgba(255,255,255,0.85)"}, {"offset": 0.07, "color": "rgba(255,255,255,0)"},
              {"offset": 0.1, "color": "rgba(255,255,255,0)"}, {"offset": 0.1, "color": "rgba(255,255,255,0.85)"}, {"offset": 0.11, "color": "rgba(255,255,255,0.85)"}, {"offset": 0.11, "color": "rgba(255,255,255,0)"},
              {"offset": 0.14, "color": "rgba(255,255,255,0)"}, {"offset": 0.14, "color": "rgba(255,255,255,0.85)"}, {"offset": 0.15, "color": "rgba(255,255,255,0.85)"}, {"offset": 0.15, "color": "rgba(255,255,255,0)"},
              {"offset": 0.18, "color": "rgba(255,255,255,0)"}, {"offset": 0.18, "color": "rgba(255,255,255,0.85)"}, {"offset": 0.19, "color": "rgba(255,255,255,0.85)"}, {"offset": 0.19, "color": "rgba(255,255,255,0)"},
              {"offset": 0.22, "color": "rgba(255,255,255,0)"}, {"offset": 0.22, "color": "rgba(255,255,255,0.85)"}, {"offset": 0.23, "color": "rgba(255,255,255,0.85)"}, {"offset": 0.23, "color": "rgba(255,255,255,0)"},
              {"offset": 0.26, "color": "rgba(255,255,255,0)"}, {"offset": 0.26, "color": "rgba(255,255,255,0.85)"}, {"offset": 0.27, "color": "rgba(255,255,255,0.85)"}, {"offset": 0.27, "color": "rgba(255,255,255,0)"},
              {"offset": 0.3, "color": "rgba(255,255,255,0)"}, {"offset": 0.3, "color": "rgba(255,255,255,0.85)"}, {"offset": 0.31, "color": "rgba(255,255,255,0.85)"}, {"offset": 0.31, "color": "rgba(255,255,255,0)"},
              {"offset": 0.34, "color": "rgba(255,255,255,0)"}, {"offset": 0.34, "color": "rgba(255,255,255,0.85)"}, {"offset": 0.35, "color": "rgba(255,255,255,0.85)"}, {"offset": 0.35, "color": "rgba(255,255,255,0)"},
              {"offset": 0.38, "color": "rgba(255,255,255,0)"}, {"offset": 0.38, "color": "rgba(255,255,255,0.85)"}, {"offset": 0.39, "color": "rgba(255,255,255,0.85)"}, {"offset": 0.39, "color": "rgba(255,255,255,0)"},
              {"offset": 0.42, "color": "rgba(255,255,255,0)"}, {"offset": 0.42, "color": "rgba(255,255,255,0.85)"}, {"offset": 0.43, "color": "rgba(255,255,255,0.85)"}, {"offset": 0.43, "color": "rgba(255,255,255,0)"},
              {"offset": 0.46, "color": "rgba(255,255,255,0)"}, {"offset": 0.46, "color": "rgba(255,255,255,0.85)"}, {"offset": 0.47, "color": "rgba(255,255,255,0.85)"}, {"offset": 0.47, "color": "rgba(255,255,255,0)"},
              {"offset": 0.5, "color": "rgba(255,255,255,0)"}, {"offset": 0.5, "color": "rgba(255,255,255,0.85)"}, {"offset": 0.51, "color": "rgba(255,255,255,0.85)"}, {"offset": 0.51, "color": "rgba(255,255,255,0)"},
              {"offset": 0.54, "color": "rgba(255,255,255,0)"}, {"offset": 0.54, "color": "rgba(255,255,255,0.85)"}, {"offset": 0.55, "color": "rgba(255,255,255,0.85)"}, {"offset": 0.55, "color": "rgba(255,255,255,0)"},
              {"offset": 0.58, "color": "rgba(255,255,255,0)"}, {"offset": 0.58, "color": "rgba(255,255,255,0.85)"}, {"offset": 0.59, "color": "rgba(255,255,255,0.85)"}, {"offset": 0.59, "color": "rgba(255,255,255,0)"},
              {"offset": 0.62, "color": "rgba(255,255,255,0)"}, {"offset": 0.62, "color": "rgba(255,255,255,0.85)"}, {"offset": 0.63, "color": "rgba(255,255,255,0.85)"}, {"offset": 0.63, "color": "rgba(255,255,255,0)"},
              {"offset": 0.66, "color": "rgba(255,255,255,0)"}, {"offset": 0.66, "color": "rgba(255,255,255,0.85)"}, {"offset": 0.67, "color": "rgba(255,255,255,0.85)"}, {"offset": 0.67, "color": "rgba(255,255,255,0)"},
              {"offset": 0.7, "color": "rgba(255,255,255,0)"}, {"offset": 0.7, "color": "rgba(255,255,255,0.85)"}, {"offset": 0.71, "color": "rgba(255,255,255,0.85)"}, {"offset": 0.71, "color": "rgba(255,255,255,0)"},
              {"offset": 0.74, "color": "rgba(255,255,255,0)"}, {"offset": 0.74, "color": "rgba(255,255,255,0.85)"}, {"offset": 0.75, "color": "rgba(255,255,255,0.85)"}, {"offset": 0.75, "color": "rgba(255,255,255,0)"},
              {"offset": 0.78, "color": "rgba(255,255,255,0)"}, {"offset": 0.78, "color": "rgba(255,255,255,0.85)"}, {"offset": 0.79, "color": "rgba(255,255,255,0.85)"}, {"offset": 0.79, "color": "rgba(255,255,255,0)"},
              {"offset": 0.82, "color": "rgba(255,255,255,0)"}, {"offset": 0.82, "color": "rgba(255,255,255,0.85)"}, {"offset": 0.83, "color": "rgba(255,255,255,0.85)"}, {"offset": 0.83, "color": "rgba(255,255,255,0)"},
              {"offset": 0.86, "color": "rgba(255,255,255,0)"}, {"offset": 0.86, "color": "rgba(255,255,255,0.85)"}, {"offset": 0.87, "color": "rgba(255,255,255,0.85)"}, {"offset": 0.87, "color": "rgba(255,255,255,0)"},
              {"offset": 0.9, "color": "rgba(255,255,255,0)"}, {"offset": 0.9, "color": "rgba(255,255,255,0.85)"}, {"offset": 0.91, "color": "rgba(255,255,255,0.85)"}, {"offset": 0.91, "color": "rgba(255,255,255,0)"},
              {"offset": 0.94, "color": "rgba(255,255,255,0)"}, {"offset": 0.94, "color": "rgba(255,255,255,0.85)"}, {"offset": 0.95, "color": "rgba(255,255,255,0.85)"}, {"offset": 0.95, "color": "rgba(255,255,255,0)"},
              {"offset": 0.98, "color": "rgba(255,255,255,0)"}, {"offset": 0.98, "color": "rgba(255,255,255,0.85)"}, {"offset": 0.99, "color": "rgba(255,255,255,0.85)"}, {"offset": 0.99, "color": "rgba(255,255,255,0)"},
              {"offset": 1, "color": "rgba(255,255,255,0)"}]}},
           "encoding": {"y": {"field": "cw", "type": "quantitative"}, "y2": {"datum": 0}}},
          {"mark": {"type": "area", "interpolate": "step-after", "stroke": "#14147e", "strokeWidth": 1.2},
           "encoding": {"y": {"field": "cs", "type": "quantitative"}, "y2": {"datum": 0}, "fill": {"datum": "charm strong"}}},
          {"mark": {"type": "area", "interpolate": "step-after", "strokeWidth": 0,
             "fill": {"gradient": "linear", "x1": 0, "y1": 0, "x2": 1, "y2": 1, "stops": [
              {"offset": 0, "color": "rgba(255,255,255,0)"},
              {"offset": 0.1, "color": "rgba(255,255,255,0)"}, {"offset": 0.1, "color": "#7cc47c"}, {"offset": 0.14, "color": "#7cc47c"}, {"offset": 0.14, "color": "rgba(255,255,255,0)"},
              {"offset": 0.3, "color": "rgba(255,255,255,0)"}, {"offset": 0.3, "color": "#7cc47c"}, {"offset": 0.34, "color": "#7cc47c"}, {"offset": 0.34, "color": "rgba(255,255,255,0)"},
              {"offset": 0.5, "color": "rgba(255,255,255,0)"}, {"offset": 0.5, "color": "#7cc47c"}, {"offset": 0.54, "color": "#7cc47c"}, {"offset": 0.54, "color": "rgba(255,255,255,0)"},
              {"offset": 0.7, "color": "rgba(255,255,255,0)"}, {"offset": 0.7, "color": "#7cc47c"}, {"offset": 0.74, "color": "#7cc47c"}, {"offset": 0.74, "color": "rgba(255,255,255,0)"},
              {"offset": 0.9, "color": "rgba(255,255,255,0)"}, {"offset": 0.9, "color": "#7cc47c"}, {"offset": 0.94, "color": "#7cc47c"}, {"offset": 0.94, "color": "rgba(255,255,255,0)"},
              {"offset": 1, "color": "rgba(255,255,255,0)"}]}},
           "encoding": {"y": {"field": "cs", "type": "quantitative"}, "y2": {"datum": 0}}},
          {"mark": {"type": "area", "interpolate": "step-after", "stroke": "#14147e", "strokeWidth": 1.2},
           "encoding": {"y": {"field": "uw", "type": "quantitative"}, "y2": {"datum": 0}, "fill": {"datum": "uds weak"}}},
          {"mark": {"type": "line", "interpolate": "step-after", "strokeWidth": 2},
           "encoding": {"y": {"field": "py", "type": "quantitative"}, "stroke": {"datum": "PYTHIA weak"}}},
          {"mark": {"type": "line", "interpolate": "step-after", "strokeWidth": 2, "color": "#ff00ff"},
           "encoding": {"y": {"field": "sf", "type": "quantitative"}, "strokeDash": {"datum": "strong fraction"}}},
          {"transform": [{"filter": "datum.x === 0.2"}],
           "mark": {"type": "text", "align": "left", "baseline": "middle", "fontSize": 18, "fontWeight": "bold", "font": "Liberation Sans", "color": "#000"},
           "encoding": {"x": {"datum": 0.775}, "y": {"datum": 9}, "text": {"field": "p"}}}
        ]
      }
    }
  ],
  "config": {
    "font": "Liberation Sans",
    "view": {"stroke": "#000", "strokeWidth": 1},
    "axis": {"labelFont": "Liberation Sans", "labelFontSize": 12, "labelColor": "#000", "titleFont": "Liberation Sans", "titleFontSize": 12.5, "titleFontWeight": "normal", "titleColor": "#000", "tickColor": "#000", "domainColor": "#000", "grid": false, "labelOverlap": false, "labelFlush": false, "labelBound": false, "tickWidth": 1},
    "line": {"strokeCap": "butt"}
  }
}
